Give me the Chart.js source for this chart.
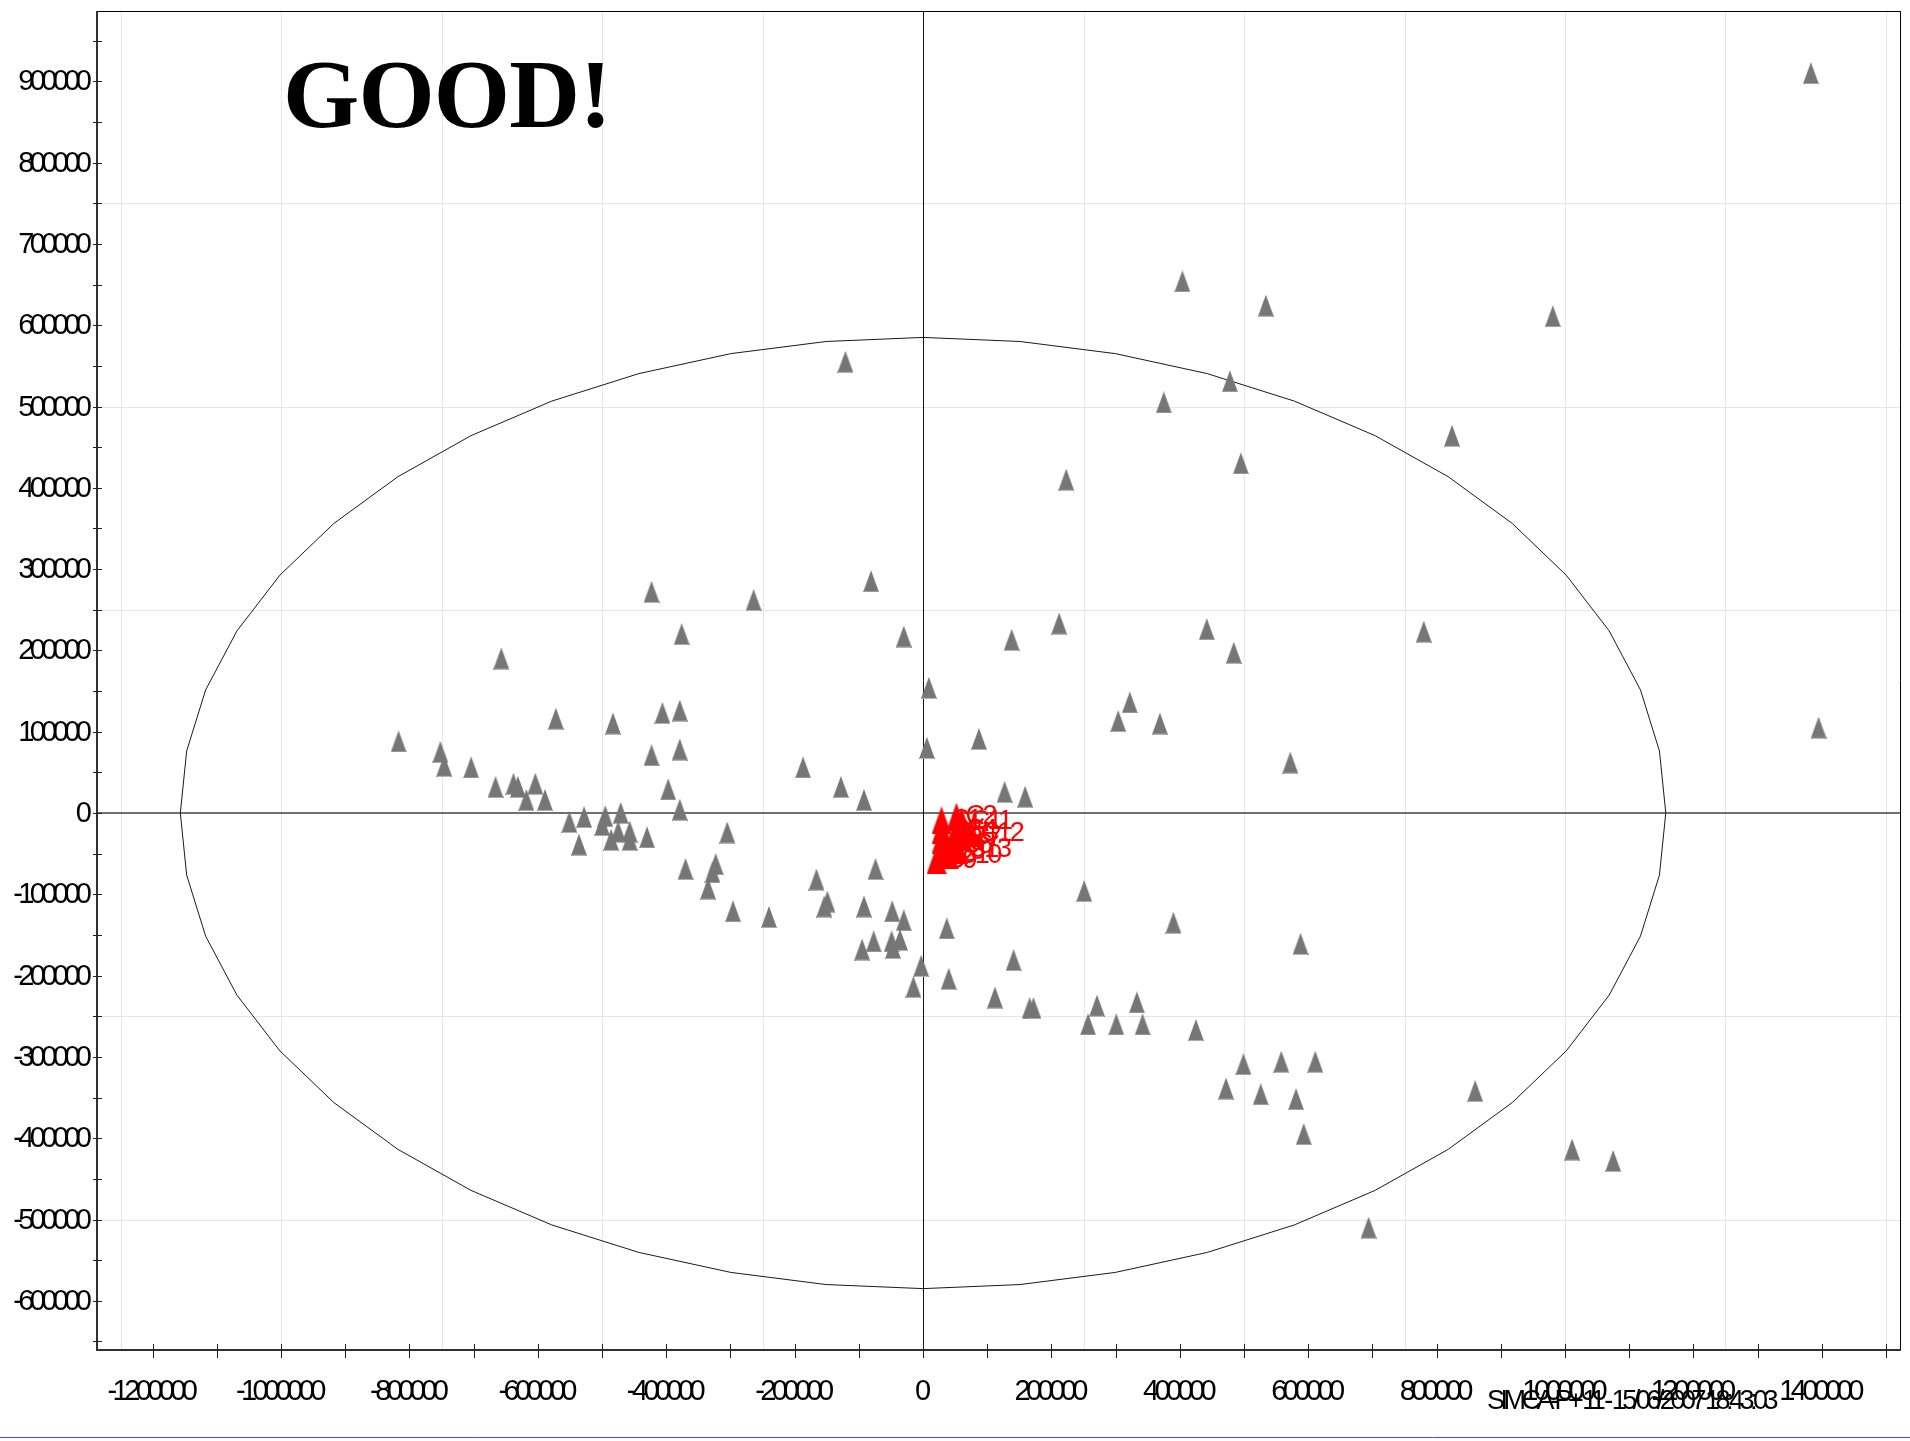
<!DOCTYPE html>
<html>
<head>
<meta charset="utf-8">
<title>Score plot t[1] / t[2]</title>
<script src="https://cdn.jsdelivr.net/npm/chart.js@4.4.1/dist/chart.umd.min.js"></script>
<style>
  html, body { margin: 0; padding: 0; background: #ffffff; }
  canvas { display: block; }
</style>
</head>
<body>
<canvas id="scores" width="1910" height="1441"></canvas>
<script>
// Score values of the observations (t[1] horizontal, t[2] vertical)
const sampleT1 = [
  -121000, -81000, -423000, -264000, -376000, -30000, -657000, 9000, -572000, -483000,
  -406000, -379000, -817000, -752000, -746000, -423000, -379000, 6000, -704000, -187000,
  -666000, -638000, -631000, -604000, -618000, -589000, -397000, -128000, -92000, -379000,
  -551000, -528000, -495000, -500000, -471000, -475000, -457000, -486000, -457000, -430000,
  -536000, -305000, -370000, -323000, -328000, -335000, -166000, -149000, -154000, -74000,
  -296000, -240000, -92000, -48000, -30000, 37000, -77000, -49000, -36000, -47000,
  -95000, -3000, -15000, 40000, 127000, 159000, 251000, 390000, 588000, 141000,
  112000, 166000, 172000, 271000, 333000, 257000, 301000, 342000, 425000, 499000,
  558000, 611000, 472000, 526000, 581000, 593000, 860000, 1011000, 1075000, 694000,
  1383000, 404000, 534000, 981000, 478000, 375000, 824000, 495000, 223000, 212000,
  138000, 442000, 484000, 780000, 322000, 304000, 369000, 87000, 1395000, 572000
];
const sampleT2 = [
  555000, 285000, 272000, 262000, 220000, 217000, 190000, 154000, 116000, 110000,
  123000, 126000, 88000, 75000, 58000, 71000, 78000, 80000, 56000, 56000,
  32000, 36000, 32000, 36000, 16000, 16000, 29000, 32000, 16000, 4000,
  -11000, -5000, -4000, -15000, 0, -23000, -23000, -33000, -33000, -30000,
  -39000, -24000, -69000, -63000, -73000, -93000, -82000, -109000, -115000, -69000,
  -121000, -128000, -115000, -121000, -132000, -142000, -158000, -158000, -156000, -166000,
  -168000, -188000, -214000, -204000, 26000, 20000, -96000, -135000, -161000, -181000,
  -227000, -240000, -240000, -237000, -233000, -260000, -260000, -260000, -267000, -309000,
  -306000, -306000, -339000, -346000, -352000, -395000, -342000, -414000, -428000, -510000,
  910000, 654000, 624000, 611000, 531000, 505000, 464000, 430000, 410000, 233000,
  213000, 226000, 197000, 223000, 136000, 113000, 110000, 91000, 105000, 62000
];

// Control observations, drawn in red with their names
const controlNames = ['C1', 'C2', 'C3', 'C4', 'C5', 'C6', 'C7', 'C8', 'C9', 'C10', 'C11', 'C12', 'C13'];
const controlT1 = [28800, 52000, 28800, 52000, 28800, 45000, 60000, 33000, 21000, 40000, 60000, 75000, 55000];
const controlT2 = [-9000, -4500, -21000, -21000, -33000, -40000, -30000, -48000, -58000, -52000, -10000, -25000, -45000];

// Hotelling T2 (95%) ellipse half-axes
const ellipseT1 = 1157000;
const ellipseT2 = 585000;

// Axis ranges and tick spacing
const t1Range = [-1286800, 1523400];
const t2Range = [-660500, 986500];
const t1TickStep = 100000, t1LabelStep = 200000;
const t2TickStep = 50000, t2LabelStep = 100000;
const gridStep = 250000;

const titleText = 'GOOD!';
const footerText = 'SIMCA-P+ 11 - 15/06/2007 18:43:03';

const TICK_FONT = '"Liberation Sans", Arial, sans-serif';
const TICK_SIZE = 29;
const TICK_SPACING = -4.6;

const t1Label = (v) => (v % t1LabelStep === 0 ? String(v) : '');
const t2Label = (v) => (v % t2LabelStep === 0 ? String(v) : '');

// ticks on whole multiples of the step, whatever the axis bounds are
function steppedTicks(step) {
  return (scale) => {
    const out = [];
    for (let v = Math.ceil(scale.min / step) * step; v <= scale.max; v += step) out.push({ value: v });
    scale.ticks = out;
  };
}

function triangleSprite(w, h, fill, edge) {
  const c = document.createElement('canvas');
  c.width = w; c.height = h;
  const g = c.getContext('2d');
  g.fillStyle = fill;
  g.beginPath();
  g.moveTo(w / 2, 0);
  g.lineTo(w, h);
  g.lineTo(0, h);
  g.closePath();
  g.fill();
  if (edge) { g.fillStyle = edge; g.fillRect(1, h - 1, w - 2, 1); }
  return c;
}
const grayMark = triangleSprite(16, 22, '#767676', '#b4b4b4');
const redMark = triangleSprite(20, 28, '#ff0000', null);

const toPoints = (xs, ys) => xs.map((v, i) => ({ x: v, y: ys[i] }));

function hLine(ctx, x0, x1, y) { ctx.beginPath(); ctx.moveTo(x0, y); ctx.lineTo(x1, y); ctx.stroke(); }
function vLine(ctx, x, y0, y1) { ctx.beginPath(); ctx.moveTo(x, y0); ctx.lineTo(x, y1); ctx.stroke(); }

// condensed text: width of the glyph run once the letter spacing is applied
function spacedWidth(ctx, text, spacing) {
  ctx.letterSpacing = '0px';
  const w = ctx.measureText(text).width;
  return w + spacing * (text.length - 1);
}
function spacedText(ctx, text, x, y, spacing, align) {
  const w = spacedWidth(ctx, text, spacing);
  let x0 = x;
  if (align === 'right') x0 = x - w;
  else if (align === 'center') x0 = x - w / 2;
  ctx.letterSpacing = spacing + 'px';
  ctx.textAlign = 'left';
  ctx.fillText(text, x0, y);
  ctx.letterSpacing = '0px';
}

const plotFrame = {
  id: 'plotFrame',
  beforeDraw(chart) {
    const ctx = chart.ctx;
    ctx.save();
    ctx.fillStyle = '#ffffff';
    ctx.fillRect(0, 0, chart.width, chart.height);
    ctx.restore();
  },
  beforeDatasetsDraw(chart) {
    const { ctx, chartArea: a, scales: { x, y } } = chart;
    ctx.save();

    // light grid
    ctx.strokeStyle = '#e6e6e6';
    ctx.lineWidth = 1;
    for (let v = Math.ceil(x.min / gridStep) * gridStep; v <= x.max; v += gridStep) {
      if (v === 0) continue;
      vLine(ctx, Math.round(x.getPixelForValue(v)) + 0.5, a.top, a.bottom);
    }
    for (let v = Math.ceil(y.min / gridStep) * gridStep; v <= y.max; v += gridStep) {
      if (v === 0) continue;
      hLine(ctx, a.left, a.right, Math.round(y.getPixelForValue(v)) + 0.5);
    }

    // zero lines
    ctx.strokeStyle = '#404040';
    ctx.lineWidth = 1.6;
    hLine(ctx, a.left, a.right, y.getPixelForValue(0));
    ctx.strokeStyle = '#111111';
    ctx.lineWidth = 1;
    vLine(ctx, Math.round(x.getPixelForValue(0)) + 0.5, a.top, a.bottom);

    // confidence ellipse as a polygon
    const segs = 48;
    ctx.strokeStyle = '#1a1a1a';
    ctx.lineWidth = 1;
    ctx.beginPath();
    for (let i = 0; i <= segs; i++) {
      const th = Math.PI - (i / segs) * 2 * Math.PI;
      const px = x.getPixelForValue(ellipseT1 * Math.cos(th));
      const py = y.getPixelForValue(ellipseT2 * Math.sin(th));
      if (i === 0) ctx.moveTo(px, py); else ctx.lineTo(px, py);
    }
    ctx.stroke();

    // frame
    ctx.strokeStyle = '#000000';
    ctx.lineWidth = 1;
    hLine(ctx, a.left, a.right, a.top + 0.5);
    vLine(ctx, a.right - 0.5, a.top, a.bottom);
    ctx.strokeStyle = '#303030';
    ctx.lineWidth = 2;
    vLine(ctx, a.left, a.top, a.bottom + 1);
    hLine(ctx, a.left - 1, a.right, a.bottom);

    // tick marks crossing the axes
    ctx.strokeStyle = '#202020';
    ctx.lineWidth = 1;
    y.ticks.forEach((t) => {
      hLine(ctx, a.left - 4, a.left + 5, Math.round(y.getPixelForValue(t.value)) + 0.5);
    });
    x.ticks.forEach((t) => {
      vLine(ctx, Math.round(x.getPixelForValue(t.value)) + 0.5, a.bottom - 6, a.bottom + 8);
    });

    // tick labels, condensed
    ctx.fillStyle = '#000000';
    ctx.font = TICK_SIZE + 'px ' + TICK_FONT;
    ctx.textBaseline = 'middle';
    y.ticks.forEach((t) => {
      const s = t2Label(t.value);
      if (s) spacedText(ctx, s, a.left - 5, y.getPixelForValue(t.value) + 1, TICK_SPACING, 'right');
    });
    x.ticks.forEach((t) => {
      const s = t1Label(t.value);
      if (s) spacedText(ctx, s, x.getPixelForValue(t.value), a.bottom + 42, TICK_SPACING, 'center');
    });
    ctx.restore();
  },
  afterDatasetsDraw(chart) {
    const ctx = chart.ctx;
    const meta = chart.getDatasetMeta(0);
    ctx.save();
    ctx.font = '27px ' + TICK_FONT;
    ctx.fillStyle = '#ff0000';
    ctx.textBaseline = 'middle';
    meta.data.forEach((pt, i) => {
      spacedText(ctx, controlNames[i], pt.x + 9, pt.y, -2.5, 'left');
    });
    ctx.restore();
  },
  afterDraw(chart) {
    const ctx = chart.ctx;
    ctx.save();
    ctx.fillStyle = '#000000';
    ctx.textAlign = 'left';
    ctx.textBaseline = 'alphabetic';
    ctx.font = 'bold 98px "Liberation Serif", "Times New Roman", serif';
    spacedText(ctx, titleText, 283, 127, -0.8, 'left');

    ctx.font = '27px ' + TICK_FONT;
    spacedText(ctx, footerText, 1487, 1409, -4.5, 'left');

    ctx.strokeStyle = '#4646ff';
    ctx.lineWidth = 1;
    hLine(ctx, 0, chart.width, 1437.5);
    ctx.restore();
  }
};

new Chart(document.getElementById('scores'), {
  type: 'scatter',
  data: {
    datasets: [
      {
        label: 'Control',
        data: toPoints(controlT1, controlT2),
        pointStyle: redMark,
        pointRadius: 8,
        backgroundColor: '#ff0000',
        borderColor: '#ff0000'
      },
      {
        label: 'Samples',
        data: toPoints(sampleT1, sampleT2),
        pointStyle: grayMark,
        pointRadius: 8,
        backgroundColor: '#767676',
        borderColor: '#767676'
      }
    ]
  },
  options: {
    responsive: false,
    animation: false,
    devicePixelRatio: 1,
    events: [],
    layout: { padding: { left: 0, top: 11, right: 8, bottom: 0 } },
    plugins: {
      legend: { display: false },
      title: { display: false },
      tooltip: { enabled: false }
    },
    scales: {
      x: {
        type: 'linear',
        position: 'bottom',
        min: t1Range[0],
        max: t1Range[1],
        grid: { display: false, drawTicks: false },
        border: { display: false },
        afterBuildTicks: steppedTicks(t1TickStep),
        afterFit(scale) { scale.height = 91; scale.paddingLeft = 0; scale.paddingRight = 0; },
        ticks: {
          display: false,
          autoSkip: false,
          maxRotation: 0,
          callback: t1Label
        }
      },
      y: {
        type: 'linear',
        position: 'left',
        min: t2Range[0],
        max: t2Range[1],
        grid: { display: false, drawTicks: false },
        border: { display: false },
        afterBuildTicks: steppedTicks(t2TickStep),
        afterFit(scale) { scale.width = 97; scale.paddingTop = 0; scale.paddingBottom = 0; },
        ticks: {
          display: false,
          autoSkip: false,
          callback: t2Label
        }
      }
    }
  },
  plugins: [plotFrame]
});
</script>
</body>
</html>
